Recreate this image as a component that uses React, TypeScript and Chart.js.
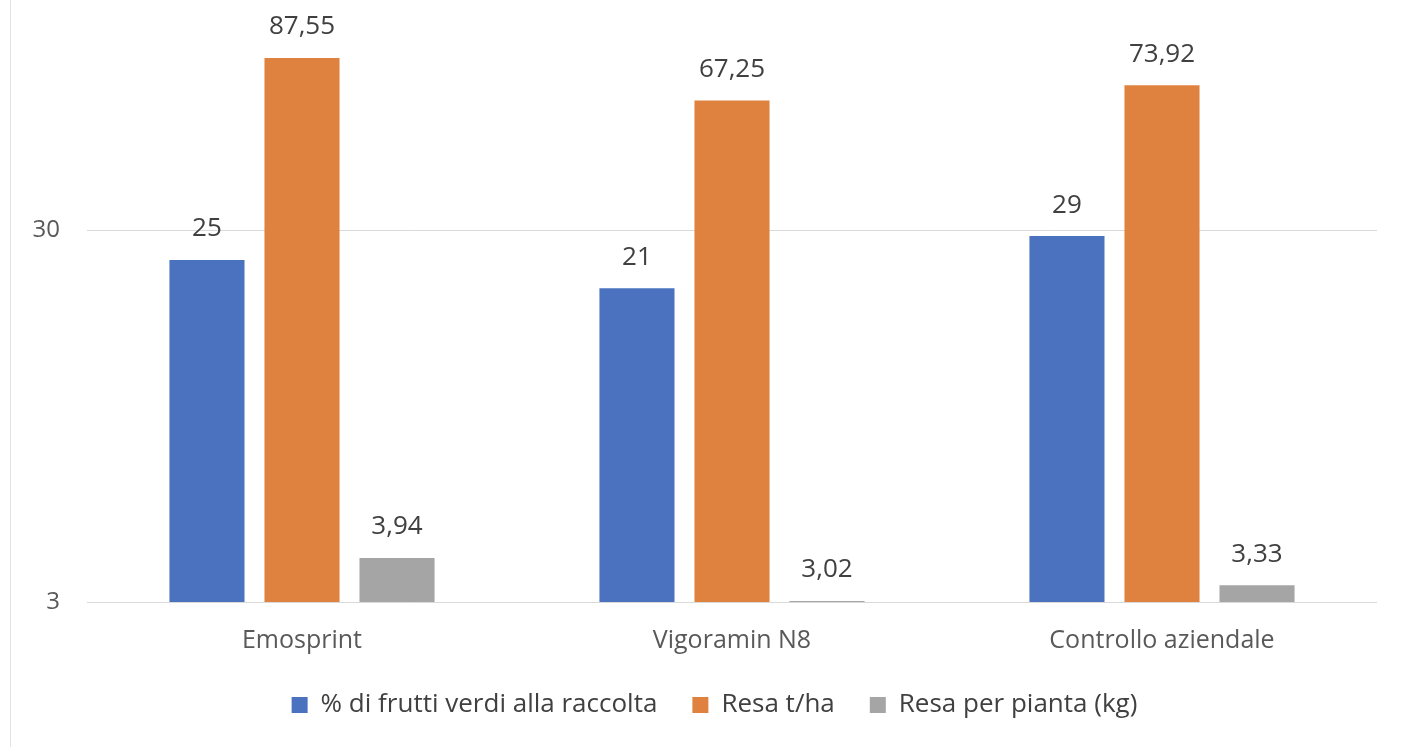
import React, { useEffect, useRef } from "react";
import { Chart, registerables } from "chart.js";

Chart.register(...registerables);

const categories = ["Emosprint", "Vigoramin N8", "Controllo aziendale"];
const seriesNames = ["% di frutti verdi alla raccolta", "Resa t/ha", "Resa per pianta (kg)"];
const greenFruitPct = [25, 21, 29];
const yieldTHa = [87.55, 67.25, 73.92];
const yieldPerPlant = [3.94, 3.02, 3.33];
const yTicks = [3, 30];
const colors = ["#4A72BF", "#E0823F", "#A5A5A5"];

const FONT = "'Open Sans', 'Liberation Sans', sans-serif";
const LEGEND_SHIFT = 26;

const fmt = (v: number) =>
  Number.isInteger(v) ? String(v) : v.toFixed(2).replace(".", ",");

const valueLabels = {
  id: "valueLabels",
  afterDatasetsDraw(chart: any) {
    const ctx = chart.ctx;
    ctx.save();
    ctx.font = `26px ${FONT}`;
    ctx.fillStyle = "#404040";
    ctx.textAlign = "center";
    ctx.textBaseline = "middle";
    chart.data.datasets.forEach((ds: any, di: number) => {
      const meta = chart.getDatasetMeta(di);
      meta.data.forEach((bar: any, i: number) => {
        ctx.fillText(fmt(ds.data[i]), bar.x, bar.y - 31);
      });
    });
    ctx.restore();
  },
};

const legendShift = {
  id: "legendShift",
  afterLayout(chart: any) {
    if (chart.legend) {
      chart.legend.left += LEGEND_SHIFT;
      chart.legend.right += LEGEND_SHIFT;
    }
  },
};

export default function App() {
  const ref = useRef<HTMLCanvasElement>(null);
  useEffect(() => {
    document.body.style.margin = "0";
    const chart = new Chart(ref.current!, {
      type: "bar",
      data: {
        labels: categories,
        datasets: [greenFruitPct, yieldTHa, yieldPerPlant].map((d, i) => ({
          label: seriesNames[i],
          data: d,
          backgroundColor: colors[i],
          borderWidth: 0,
          categoryPercentage: 0.663,
          barPercentage: 0.79,
        })),
      },
      options: {
        animation: false,
        responsive: false,
        layout: { padding: { left: 0, right: 28, top: 0, bottom: 19 } },
        plugins: {
          tooltip: { enabled: false },
          title: { display: false },
          legend: {
            position: "bottom",
            labels: {
              boxWidth: 16,
              boxHeight: 16,
              padding: 35,
              color: "#404040",
              font: { family: FONT, size: 26 },
            },
          },
        },
        scales: {
          x: {
            grid: { display: false, drawTicks: false },
            border: { display: false },
            ticks: { color: "#595959", font: { family: FONT, size: 25, lineHeight: 1 }, padding: 26 },
            afterFit: (s: any) => { s.height = 55; },
          },
          y: {
            type: "logarithmic",
            min: 3,
            max: 97,
            afterBuildTicks: (s: any) => { s.ticks = yTicks.map((v) => ({ value: v })); },
            grid: { color: "#D9D9D9", drawTicks: false, lineWidth: 1 },
            border: { display: false },
            ticks: {
              color: "#595959",
              font: { family: FONT, size: 24 },
              padding: 27,
              callback: (v: any) => String(v),
            },
            afterFit: (s: any) => { s.width = 87; },
          },
        },
      },
      plugins: [valueLabels, legendShift],
    });
    return () => chart.destroy();
  }, []);
  return (
    <div style={{ position: "fixed", left: 0, top: 0, width: 1405, height: 747, background: "#fff" }}>
      <div style={{ position: "absolute", left: 10, top: 0, bottom: 0, borderLeft: "1px solid #E3E3E3" }} />
      <canvas ref={ref} width={1405} height={747} style={{ position: "absolute", left: 0, top: 0 }} />
    </div>
  );
}
